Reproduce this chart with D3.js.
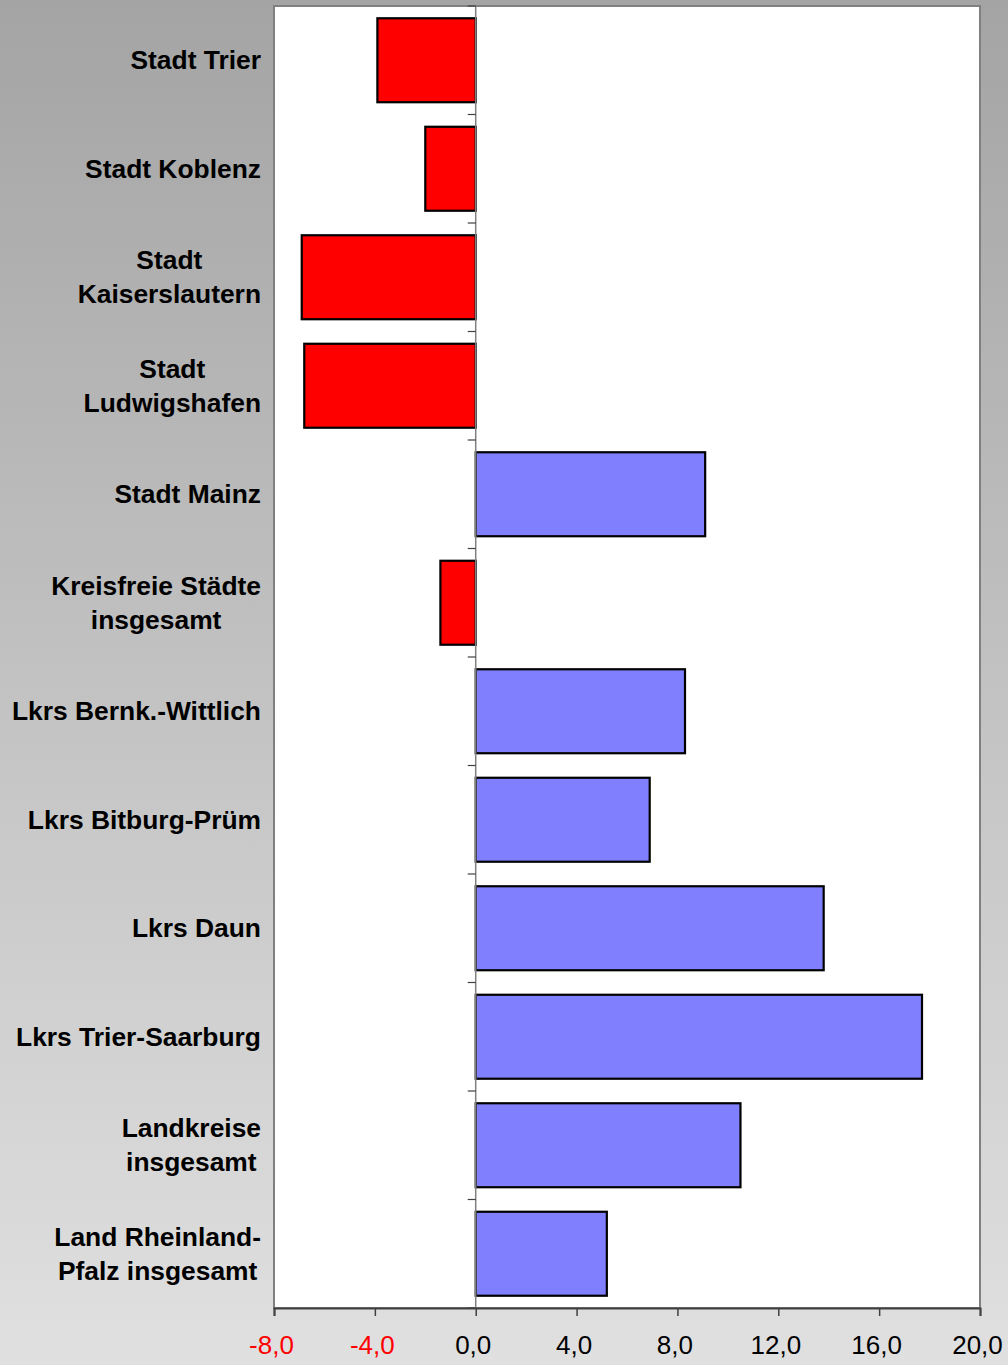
<!DOCTYPE html>
<html>
<head>
<meta charset="utf-8">
<script src="https://cdn.jsdelivr.net/npm/d3@7"></script>
<style>
  html, body { margin: 0; padding: 0; background: #fff; }
  svg { display: block; font-family: Arial, "Liberation Sans", Helvetica, sans-serif; }
</style>
</head>
<body>
<svg id="chart" width="1008" height="1365"></svg>
<script>
// Regions (each label may span several lines)
const categories = [
  ["Stadt Trier"],
  ["Stadt Koblenz"],
  ["Stadt", "Kaiserslautern"],
  ["Stadt", "Ludwigshafen"],
  ["Stadt Mainz"],
  ["Kreisfreie Städte", "insgesamt"],
  ["Lkrs Bernk.-Wittlich"],
  ["Lkrs Bitburg-Prüm"],
  ["Lkrs Daun"],
  ["Lkrs Trier-Saarburg"],
  ["Landkreise", "insgesamt"],
  ["Land Rheinland-", "Pfalz insgesamt"]
];
// Change in percent
const values = [-3.9, -2.0, -6.9, -6.8, 9.1, -1.4, 8.3, 6.9, 13.8, 17.7, 10.5, 5.2];
const tickValues = [-8, -4, 0, 4, 8, 12, 16, 20];

const W = 1008, H = 1365;
const plot = { left: 274, top: 6, right: 980, bottom: 1308 };
const FONT = 'Arial, "Liberation Sans", Helvetica, sans-serif';

const svg = d3.select("#chart");

// background gradient
const defs = svg.append("defs");
const grad = defs.append("linearGradient").attr("id", "bg")
  .attr("x1", 0).attr("y1", 0).attr("x2", 0).attr("y2", 1);
grad.append("stop").attr("offset", "0%").attr("stop-color", "#a4a4a4");
grad.append("stop").attr("offset", "100%").attr("stop-color", "#e0e0e0");
svg.append("rect").attr("width", W).attr("height", H).attr("fill", "url(#bg)");

const x = d3.scaleLinear().domain([-8, 20]).range([plot.left, plot.right]);
const keys = categories.map((c, i) => i);
const y = d3.scaleBand().domain(keys).range([plot.top, plot.bottom])
  .paddingInner(0.226).paddingOuter(0.113);

// plot area
svg.append("rect")
  .attr("x", plot.left).attr("y", plot.top)
  .attr("width", plot.right - plot.left).attr("height", plot.bottom - plot.top)
  .attr("fill", "#ffffff").attr("stroke", "#808080").attr("stroke-width", 2);

// bars
svg.append("g").selectAll("rect").data(values).join("rect")
  .attr("x", d => x(Math.min(0, d)))
  .attr("y", (d, i) => y(i))
  .attr("width", d => Math.abs(x(d) - x(0)))
  .attr("height", y.bandwidth())
  .attr("fill", d => d < 0 ? "#ff0000" : "#8080ff")
  .attr("stroke", "#000").attr("stroke-width", 2.2);

// zero axis with category ticks
const step = y.step();
const boundaries = d3.range(categories.length + 1).map(i => plot.top + i * step);
const zeroAxis = svg.append("g");
zeroAxis.append("line")
  .attr("x1", x(0)).attr("x2", x(0)).attr("y1", plot.top).attr("y2", plot.bottom)
  .attr("stroke", "#808080").attr("stroke-width", 1.5);
zeroAxis.selectAll("line.t").data(boundaries).join("line").attr("class", "t")
  .attr("x1", x(0) - 8).attr("x2", x(0)).attr("y1", d => d).attr("y2", d => d)
  .attr("stroke", "#404040").attr("stroke-width", 1.2);

// bottom value axis
const xAxis = d3.axisBottom(x).tickValues(tickValues).tickSize(8).tickPadding(20)
  .tickFormat(d => d.toFixed(1).replace(".", ","));
const gx = svg.append("g").attr("transform", `translate(0,${plot.bottom})`).call(xAxis);
gx.attr("font-family", FONT);
gx.select(".domain").attr("stroke", "#404040").attr("stroke-width", 2);
gx.selectAll(".tick line").attr("stroke", "#404040").attr("stroke-width", 1.5);
gx.selectAll(".tick text")
  .attr("font-family", FONT)
  .attr("font-size", 26)
  .attr("dx", -3)
  .attr("fill", d => d < 0 ? "#ff0000" : "#000");

// category labels: right aligned block, lines centred within block
const labelRight = 261;
const lineH = 34;
const lg = svg.append("g")
  .attr("font-family", FONT)
  .attr("font-size", 26.4).attr("font-weight", "bold").attr("fill", "#000");
categories.forEach((lines, i) => {
  const cy = y(i) + y.bandwidth() / 2;
  const texts = lines.map((t, j) => lg.append("text")
    .attr("y", cy + (j - (lines.length - 1) / 2) * lineH)
    .attr("dy", "0.35em")
    .text(t));
  const maxW = d3.max(texts, t => t.node().getComputedTextLength());
  texts.forEach(t => t.attr("x", labelRight - maxW / 2).attr("text-anchor", "middle"));
});
</script>
</body>
</html>
